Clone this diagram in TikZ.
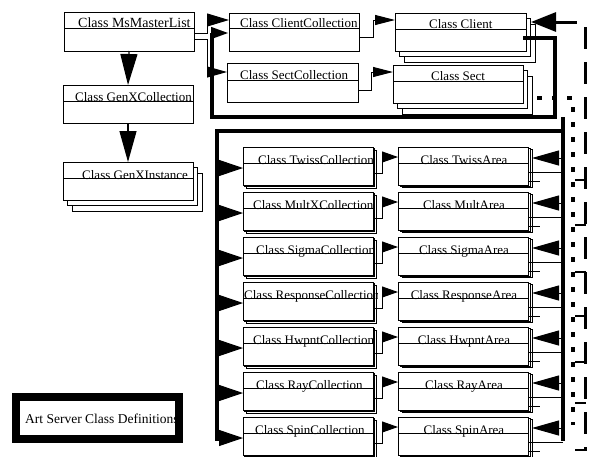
\documentclass[tikz,border=0pt]{standalone}
\usepackage{fontspec}
\setmainfont{Liberation Serif}
\usetikzlibrary{arrows.meta,shadows}
\newcommand\umltitle[4]{\begin{scope}\clip ([xshift=-1pt]#1.north west) rectangle ([xshift=4pt]#1.south east);\node[titletext] (#1-t) at (#2,#3) {#4};\end{scope}}
\newcommand\umldiv[2]{\draw[boxline] ([yshift=-#2pt]#1.north west) -- ([yshift=-#2pt]#1.north east);}
\begin{document}
\begin{tikzpicture}[x=1pt,y=-1pt,
  boxline/.style={line width=0.8pt},
  umlbox/.style={draw=black, fill=white, line width=0.8pt, anchor=north west, inner sep=0, outer sep=0, minimum width=130pt, minimum height=38pt},
  titletext/.style={anchor=base west, inner sep=0, font=\fontsize{13}{15}\selectfont},
  stackA/.style={double copy shadow={shadow xshift=4.5pt, shadow yshift=-5.5pt}},
  stackB/.style={double copy shadow={shadow xshift=1.6pt, shadow yshift=-1.6pt}},
  stackC/.style={double copy shadow={shadow xshift=2.4pt, shadow yshift=-1.4pt}},
  conn/.style={line width=1pt},
  bus/.style={line width=4pt},
  smallarrow/.style={-{Triangle[length=16pt,width=11pt]}},
  bigarrow/.style={-{Triangle[length=31pt,width=17pt]}},
]
\useasboundingbox (0,0) rectangle (589,456);
\fill[white] (0,0) rectangle (589,456);

% ---------- top left column ----------
\node[umlbox, minimum height=39pt] (ml) at (64,12) {};
\umldiv{ml}{16}
\umltitle{ml}{78}{27}{\fontsize{14}{16}\selectfont Class MsMasterList}

\node[umlbox] (gxc) at (63,85) {};
\umldiv{gxc}{16}
\umltitle{gxc}{75}{101}{Class GenXCollection}

\node[umlbox, stackA] (gxi) at (63,162) {};
\umldiv{gxi}{16}
\umltitle{gxi}{82}{179}{Class GenXInstance}

\draw[conn, line width=1.2pt, bigarrow] (ml.south) -- (gxc.north);
\draw[conn, line width=1.2pt, bigarrow] (gxc.south) -- (gxi.north);

% ---------- top middle / right ----------
\node[umlbox] (cc) at (229,13) {};
\umldiv{cc}{15}
\umltitle{cc}{240}{27}{Class ClientCollection}

\node[umlbox, minimum width=131pt, minimum height=39pt] (sc) at (227,63) {};
\umldiv{sc}{17}
\umltitle{sc}{240}{79}{Class SectCollection}

\node[umlbox, minimum width=131pt, stackA] (client) at (395,13) {};
\umldiv{client}{16}
\umltitle{client}{429}{28}{Class Client}

\node[umlbox, stackA] (sect) at (393,65) {};
\umldiv{sect}{16}
\umltitle{sect}{431}{80}{Class Sect}

% connectors at the top
\draw[conn, -{Triangle[length=22pt,width=13pt]}] ([yshift=-21pt]ml.north east) -- (207,33) -- (207,20) -- ([yshift=-7pt]cc.north west);
\draw[conn, -{Triangle[length=20pt,width=11pt]}] ([yshift=-27pt]ml.north east) -- (207,39) -- (207,72) -- ([yshift=-9pt]sc.north west);
\draw[conn, -{Triangle[length=20pt,width=10pt]}] ([yshift=-24pt]cc.north east) -- (373,37) |- ([yshift=-7pt]client.north west);
\draw[conn, -{Triangle[length=20pt,width=10pt]}] ([yshift=-27pt]sc.north east) -- (371,90) |- ([yshift=-7pt]sect.north west);

% thick loop from Client back to ClientCollection
\draw[bus, -{Triangle[length=18pt,width=11pt]}] ([xshift=-3pt,yshift=-25pt]client.north east) -- (555,38) -- (555,117) -- (212,117) -- (212,33) -- ([yshift=-20pt]cc.north west);

% buses
\draw[bus] (563,117) -- (563,441);
\draw[bus] (563,131) -- (217,131) -- (217,441);

% ---------- rows of collections and areas ----------
\foreach \i/\c/\a/\t/\cx in {1/Twiss/Twiss/147/258, 2/MultX/Mult/192/253, 3/Sigma/Sigma/237/256, 4/Response/Response/282/244, 5/Hwpnt/Hwpnt/327/253, 6/Ray/Ray/372/256, 7/Spin/Spin/417/255}{
  \node[umlbox, stackB] (coll\i) at (243,\t) {};
  \umldiv{coll\i}{16}
  \umltitle{coll\i}{\cx}{\t+17}{Class \c Collection}
  \node[umlbox, stackC] (area\i) at (398,\t) {};
  \umldiv{area\i}{16}
  \node[anchor=base, inner sep=0, font=\fontsize{13}{15}\selectfont] (area\i-t) at (464,\t+17) {Class \a Area};
  % left bus -> collection
  \draw[conn, -{Triangle[length=24pt,width=16pt]}] (217,\t+21) -- ([yshift=-21pt]coll\i.north west);
  % collection -> area
  \draw[conn, smallarrow] ([yshift=-26pt]coll\i.north east) -- ++(9,0) |- ([yshift=-10pt]area\i.north west);
  % right bus -> area
  \draw[conn, -{Triangle[length=27pt,width=15pt]}] (563,\t+11) -- ([xshift=4pt,yshift=-11pt]area\i.north east);
  \draw[conn] ([yshift=-25pt]area\i.north east) -- (563,\t+25);
  \draw[conn] ([yshift=-34pt]area\i.north east) -- ++(12,0);
}

% ---------- dashed and dotted references on the right ----------
\coordinate (cltip) at (531,22);
\draw[line width=3pt, dash pattern=on 22pt off 13pt, {Triangle[length=25pt,width=19pt]}-] (cltip) -- (585,22) -- (585,451);
\draw[line width=4.5pt, dash pattern=on 4.5pt off 10.5pt] ([xshift=14pt,yshift=-33pt]sect.north east) -- (573,98) -- (573,425);
\foreach \y in {180,225,272,316,362,403,450}{
  \draw[line width=1.8pt] (575,\y) -- (586,\y);
}

% ---------- legend ----------
\node[draw=black, line width=8.5pt, inner sep=0, outer sep=0, anchor=north west, minimum width=163pt, minimum height=42pt] (legend) at (16,397) {};
\node[anchor=base west, inner sep=0, font=\fontsize{13.5}{16}\selectfont] (legend-t) at (25,423) {Art Server Class Definitions};
\end{tikzpicture}
\end{document}
